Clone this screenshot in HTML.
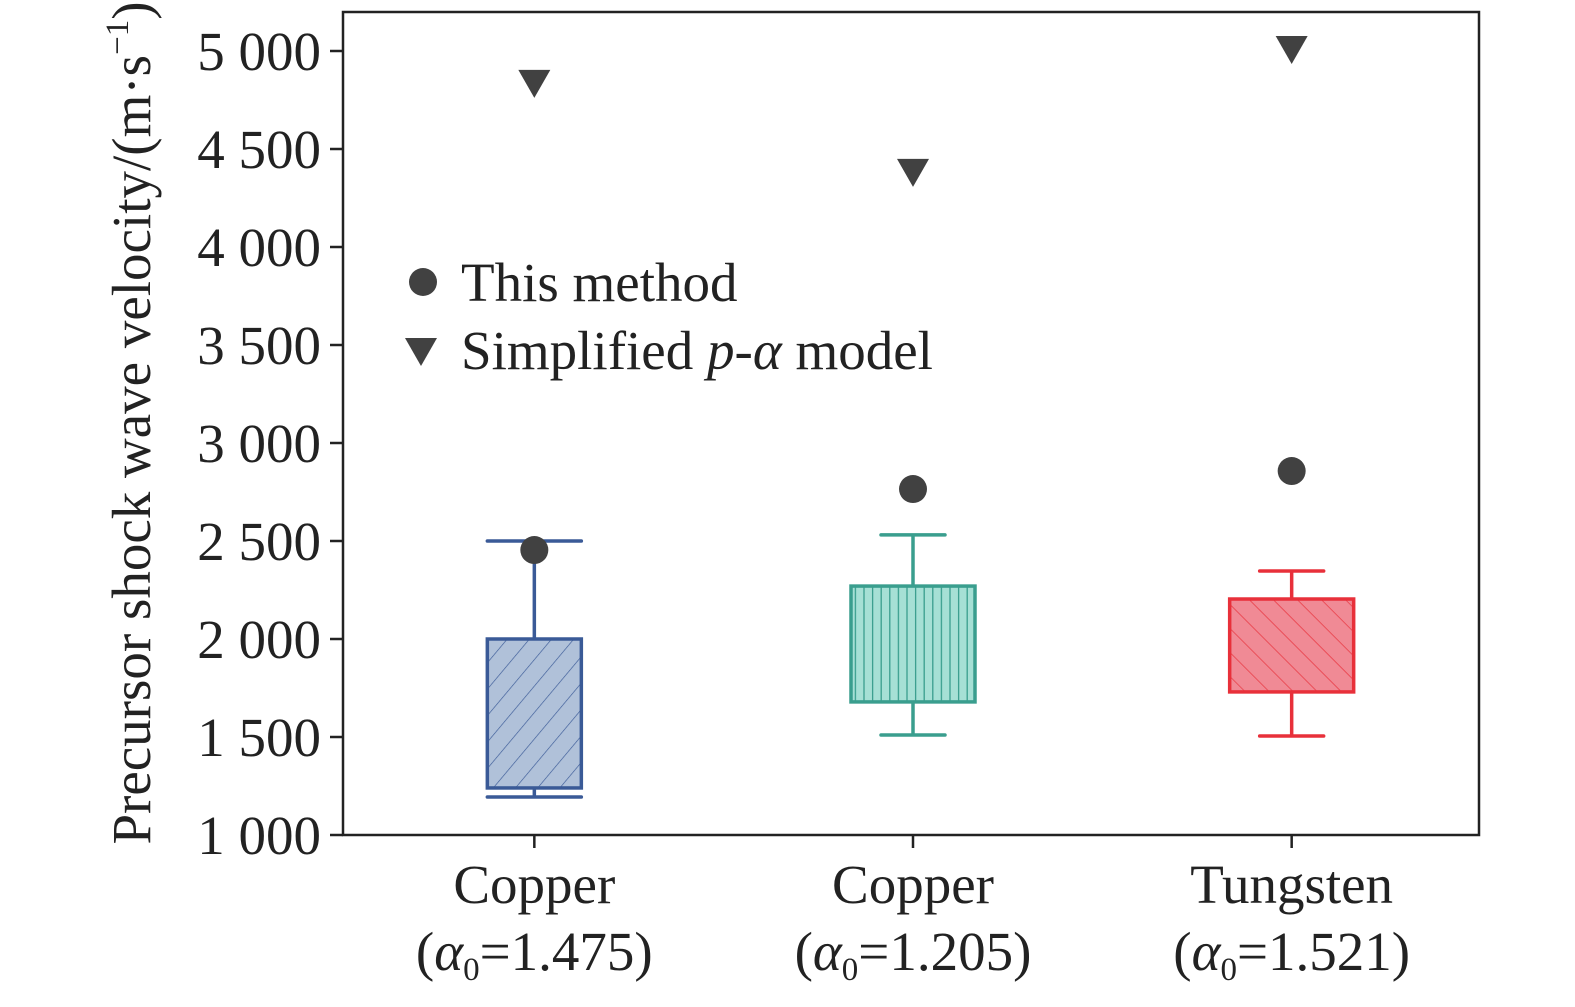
<!DOCTYPE html>
<html><head><meta charset="utf-8"><style>
body{margin:0;background:#fff}
svg text{font-family:"Liberation Serif",serif;fill:#222}
</style></head><body>
<svg id="chart" width="1575" height="1002" viewBox="0 0 1575 1002">
<defs>
<pattern id="hb" patternUnits="userSpaceOnUse" width="17" height="17" patternTransform="rotate(40)"><line x1="0" y1="0" x2="0" y2="17" stroke="#3a5a97" stroke-width="1.3"/></pattern>
<pattern id="ht" patternUnits="userSpaceOnUse" width="8.6" height="10"><line x1="4" y1="0" x2="4" y2="10" stroke="#3a9e8e" stroke-width="1.3"/></pattern>
<pattern id="hr" patternUnits="userSpaceOnUse" width="17" height="17" patternTransform="rotate(-45)"><line x1="0" y1="0" x2="0" y2="17" stroke="#e8303a" stroke-width="1.3"/></pattern>
</defs>
<g id="plot"></g>
</svg>
<script>
const categories=["Copper","Copper","Tungsten"];
const alphaLabels=["1.475","1.205","1.521"];
const whiskerLow=[1194,1510,1505];
const boxLow=[1240,1679,1730];
const boxHigh=[2000,2270,2204];
const whiskerHigh=[2500,2531,2347];
const thisMethod=[2454,2765,2857];
const simplified=[4832,4378,5005];
const yTicks=[1000,1500,2000,2500,3000,3500,4000,4500,5000];
const yTickLabels=["1 000","1 500","2 000","2 500","3 000","3 500","4 000","4 500","5 000"];

const NS="http://www.w3.org/2000/svg";
const g=document.getElementById('plot');
const L=343,R=1479,T=12,B=835;
const FS=55;
const y=v=>835-(v-1000)*(784/4000);
const x=i=>L+(i+0.5)*(R-L)/3+2;
function mk(tag,a,parent){const e=document.createElementNS(NS,tag);for(const k in a)e.setAttribute(k,a[k]);(parent||g).appendChild(e);return e;}

let f=mk('rect',{x:L,y:T,width:R-L,height:B-T,fill:'none',stroke:'#222','stroke-width':2.5});



yTicks.forEach((v,k)=>{
 let t=mk('line',{x1:L-13,x2:L,y1:y(v),y2:y(v),stroke:'#222','stroke-width':2.5});
 
 
 let tx=mk('text',{x:L-22,y:y(v)+19,'text-anchor':'end','font-size':FS});
 tx.textContent=yTickLabels[k];
 
 
});
let yt=mk('text',{x:0,y:0,'text-anchor':'middle','font-size':FS,transform:'translate(150,423) rotate(-90)'});
yt.innerHTML='Precursor shock wave velocity/(m·s<tspan dy="-22" font-size="33">−1</tspan><tspan dy="22">)</tspan>';



const strokes=['#3a5a97','#3a9e8e','#e8303a'];
const fills=['#b0c1d9','#a6e0d5','#f08a95'];
const pats=['hb','ht','hr'];
const bw=[94,124,124],cw=[94,64,64];
categories.forEach((c,i)=>{
 const cx=x(i);
 let tk=mk('line',{x1:cx,x2:cx,y1:B,y2:B+13,stroke:'#222','stroke-width':2.5});
 
 
 let l1=mk('text',{x:cx,y:903,'text-anchor':'middle','font-size':FS});l1.textContent=c;
 
 
 let l2=mk('text',{x:cx,y:970,'text-anchor':'middle','font-size':FS});
 l2.innerHTML='(<tspan font-style="italic">α</tspan><tspan dy="10" font-size="33">0</tspan><tspan dy="-10">='+alphaLabels[i]+')</tspan>';
 
 
 const s=strokes[i];
 let w=mk('line',{x1:cx,x2:cx,y1:y(whiskerHigh[i]),y2:y(whiskerLow[i]),stroke:s,'stroke-width':3.5});
 
 
 [whiskerHigh[i],whiskerLow[i]].forEach(v=>{
  let cp=mk('line',{x1:cx-cw[i]/2,x2:cx+cw[i]/2,y1:y(v),y2:y(v),stroke:s,'stroke-width':3.5,'stroke-linecap':'round'});
  
  
 });
 const bx={x:cx-bw[i]/2,y:y(boxHigh[i]),width:bw[i],height:y(boxLow[i])-y(boxHigh[i])};
 let b1=mk('rect',Object.assign({fill:fills[i]},bx));
 
 
 let b2=mk('rect',Object.assign({fill:'url(#'+pats[i]+')',stroke:s,'stroke-width':3.5},bx));
 
 
 let dot=mk('circle',{cx:cx,cy:y(thisMethod[i]),r:14,fill:'#414141'});
 
 
 const ty=y(simplified[i]);
 let tri=mk('polygon',{points:`${cx-16},${ty-14} ${cx+16},${ty-14} ${cx},${ty+14}`,fill:'#414141'});
 
 
});

let lc=mk('circle',{cx:423,cy:282,r:14,fill:'#414141'});


let lt1=mk('text',{x:461,y:301,'font-size':FS});lt1.textContent='This method';


let ltr=mk('polygon',{points:'405,338 437,338 421,366',fill:'#414141'});


let lt2=mk('text',{x:461,y:369,'font-size':FS});
lt2.innerHTML='Simplified <tspan font-style="italic">p</tspan>-<tspan font-style="italic">α</tspan> model';


</script>
</body></html>
